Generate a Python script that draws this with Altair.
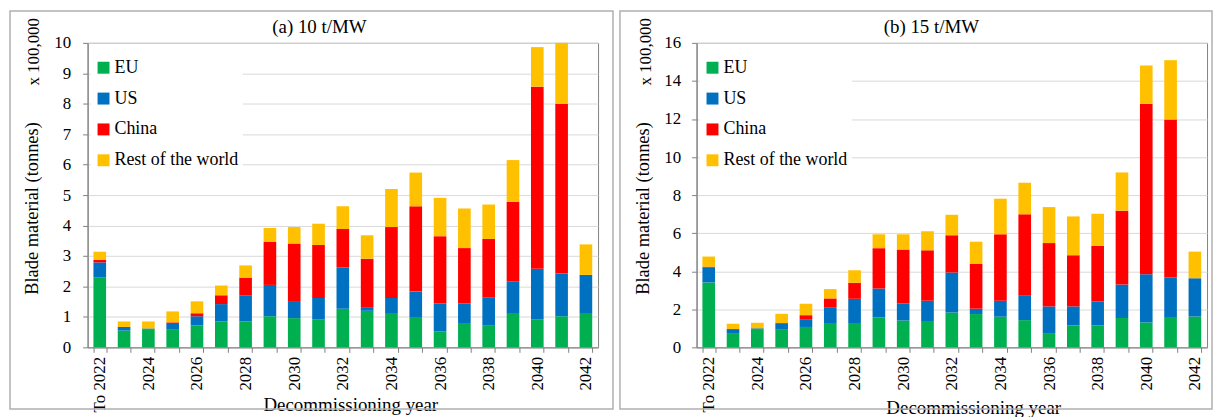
import altair as alt
import pandas as pd

categories = ["To 2022"] + [str(y) for y in range(2023, 2043)]
regions = ["EU", "US", "China", "Rest of the world"]
colors = ["#00B050", "#0070C0", "#FF0000", "#FFC000"]

# (a) 10 t/MW  (x 100,000 tonnes)
eu_a = [2.30, 0.55, 0.60, 0.60, 0.72, 0.85, 0.85, 1.02, 0.96, 0.91, 1.27, 1.20, 1.10, 0.97, 0.52, 0.80, 0.71, 1.10, 0.91, 1.02, 1.10]
us_a = [0.49, 0.12, 0.02, 0.20, 0.30, 0.57, 0.86, 1.03, 0.56, 0.71, 1.35, 0.12, 0.52, 0.86, 0.92, 0.64, 0.92, 1.07, 1.67, 1.41, 1.28]
cn_a = [0.08, 0.00, 0.00, 0.02, 0.10, 0.29, 0.58, 1.41, 1.89, 1.74, 1.27, 1.59, 2.33, 2.80, 2.21, 1.82, 1.93, 2.61, 5.98, 5.57, 0.00]
rw_a = [0.27, 0.18, 0.23, 0.36, 0.39, 0.32, 0.40, 0.46, 0.54, 0.70, 0.74, 0.77, 1.25, 1.11, 1.26, 1.30, 1.13, 1.37, 1.30, 2.00, 1.00]

# (b) 15 t/MW
eu_b = [3.41, 0.75, 0.96, 0.96, 1.07, 1.28, 1.28, 1.57, 1.41, 1.34, 1.83, 1.75, 1.61, 1.43, 0.75, 1.15, 1.15, 1.54, 1.31, 1.55, 1.62]
us_b = [0.80, 0.21, 0.04, 0.28, 0.41, 0.83, 1.27, 1.52, 0.90, 1.11, 2.10, 0.28, 0.84, 1.31, 1.40, 1.00, 1.26, 1.76, 2.53, 2.12, 2.01]
cn_b = [0.03, 0.00, 0.00, 0.04, 0.21, 0.46, 0.84, 2.12, 2.83, 2.65, 1.96, 2.37, 3.49, 4.25, 3.33, 2.69, 2.92, 3.88, 8.96, 8.30, 0.00]
rw_b = [0.53, 0.28, 0.29, 0.48, 0.60, 0.49, 0.66, 0.73, 0.80, 1.00, 1.08, 1.15, 1.87, 1.66, 1.89, 2.04, 1.69, 2.01, 2.01, 3.12, 1.40]

panel_titles = ["(a) 10 t/MW", "(b) 15 t/MW"]
note_text = "x 100,000"

FONT = "Liberation Serif"
W, H = 513, 306


def make_df(eu, us, cn, rw):
    rows = []
    for i, c in enumerate(categories):
        for k, (r, vals) in enumerate(zip(regions, [eu, us, cn, rw])):
            rows.append({"year": c, "region": r, "value": vals[i], "order": k})
    return pd.DataFrame(rows)


one = pd.DataFrame({"a": [0]})

label_expr = "datum.value == 'To 2022' || toNumber(datum.value) % 2 == 0 ? datum.value : ''"


def panel(title, title_x, df, ymax, ystep, ylab_pad, ytitle_x, xtitle_x, xtitle_y, note_x, frame_x1, frame_x2):
    bars = alt.Chart(df).mark_bar().encode(
        x=alt.X(
            "year:N",
            sort=categories,
            scale=alt.Scale(paddingInner=0.48, paddingOuter=0.24),
            axis=alt.Axis(
                title="Decommissioning year",
                labelAngle=-90,
                labelExpr=label_expr,
                tickBand="extent",
                tickSize=5,
                labelPadding=4,
                labelFont=FONT,
                titleFont=FONT,
                labelFontSize=17,
                titleFontSize=19,
                titleX=xtitle_x,
                titleY=xtitle_y,
                titleBaseline="middle",
                domainColor="#808080",
                tickColor="#808080",
            ),
        ),
        y=alt.Y(
            "value:Q",
            stack="zero",
            scale=alt.Scale(domain=[0, ymax], nice=False),
            axis=alt.Axis(
                title="Blade material (tonnes)",
                values=list(range(0, ymax + 1, ystep)),
                format="d",
                tickSize=5,
                labelPadding=ylab_pad,
                labelFont=FONT,
                titleFont=FONT,
                labelFontSize=17,
                titleFontSize=18.5,
                titleX=ytitle_x,
                titleY=166,
                titleBaseline="middle",
                grid=True,
                gridColor="#D9D9D9",
                domainColor="#808080",
                tickColor="#808080",
            ),
        ),
        color=alt.Color(
            "region:N",
            scale=alt.Scale(domain=regions, range=colors),
            legend=alt.Legend(
                title=None,
                orient="none",
                legendX=3,
                legendY=12,
                symbolType="square",
                symbolSize=144,
                symbolStrokeWidth=0,
                labelFontSize=18,
                labelFont=FONT,
                labelColor="black",
                labelOffset=2,
                rowPadding=13,
                fillColor="white",
                padding=4,
            ),
        ),
        order=alt.Order("order:Q"),
    )
    note = alt.Chart(one).mark_text(
        text=note_text, angle=270, font=FONT, fontSize=17, align="center", baseline="middle", color="black"
    ).encode(x=alt.value(note_x), y=alt.value(9))
    ttl = alt.Chart(one).mark_text(
        text=title, font=FONT, fontSize=19, align="center", baseline="alphabetic", color="black"
    ).encode(x=alt.value(title_x), y=alt.value(-10))
    frame = alt.Chart(one).mark_rect(filled=False, stroke="#B0B0B0", strokeWidth=1.5).encode(
        x=alt.value(frame_x1), x2=alt.value(frame_x2), y=alt.value(-32), y2=alt.value(H + 62)
    )
    return alt.layer(frame, bars, note, ttl).properties(width=W, height=H)


pa = panel(panel_titles[0], 233, make_df(eu_a, us_a, cn_a, rw_a), 10, 1, 12, -56, 264, 57, -54, -78, W + 15)
pb = panel(panel_titles[1], 236, make_df(eu_b, us_b, cn_b, rw_b), 16, 2, 11, -54, 278, 60, -51, -77, W + 5)

chart = alt.hconcat(pa, pb, spacing=3).resolve_scale(
    y="independent", x="independent"
).resolve_legend(color="independent").properties(padding=0).configure(
    font=FONT, background="white"
).configure_view(stroke="#808080", strokeWidth=1).configure_axis(
    labelFont=FONT, titleFont=FONT, labelColor="black", titleColor="black", titleFontWeight="normal", grid=False
)

chart.save("out.html", embed_options={"renderer": "svg", "actions": False})
